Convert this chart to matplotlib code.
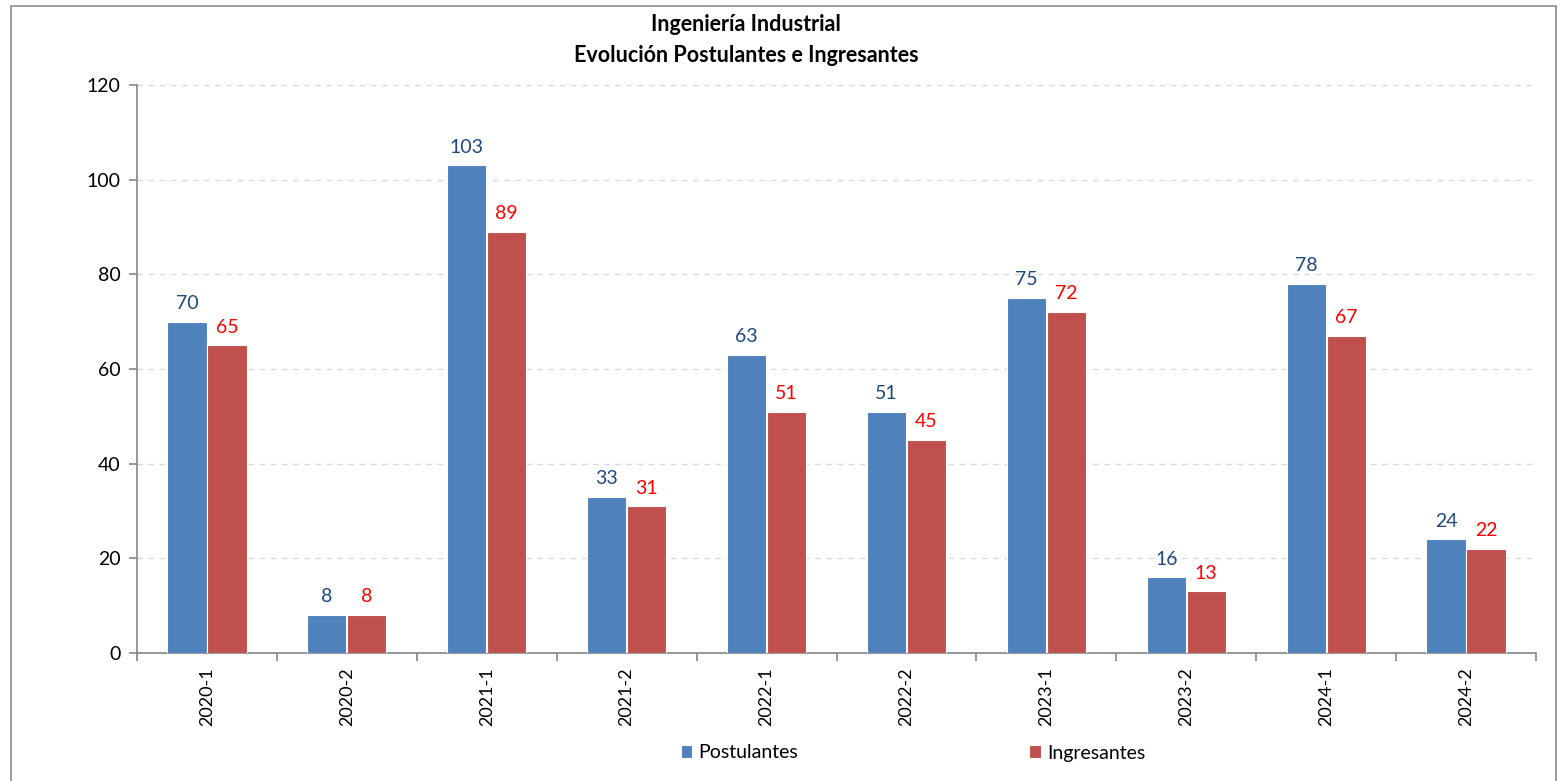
import numpy as np
import matplotlib
matplotlib.use("Agg")
from matplotlib import pyplot as plt
from matplotlib.patches import Rectangle

periodos = ["2020-1", "2020-2", "2021-1", "2021-2", "2022-1",
            "2022-2", "2023-1", "2023-2", "2024-1", "2024-2"]
postulantes = [70, 8, 103, 33, 63, 51, 75, 16, 78, 24]
ingresantes = [65, 8, 89, 31, 51, 45, 72, 13, 67, 22]

plt.rcParams['font.family'] = ['Lato', 'DejaVu Sans']

azul = "#4F81BD"
rojo = "#C0504D"

fig = plt.figure(figsize=(15.6, 7.81), dpi=100)
ax = fig.add_axes([137/1560, 1 - 653/781, (1536 - 137)/1560, (653 - 85)/781])

# marco del grafico
fig.patches.append(Rectangle((11/1560, -0.05), (1556 - 11)/1560, 1.05 - 6/781,
                             transform=fig.transFigure, fill=False,
                             edgecolor="#8C8C8C", linewidth=1.2))

x = np.arange(len(periodos))
w = 0.28
b1 = ax.bar(x - w/2 - 0.003, postulantes, w, color=azul, edgecolor="white",
            linewidth=0.8, label="Postulantes", zorder=3)
b2 = ax.bar(x + w/2 + 0.003, ingresantes, w, color=rojo, edgecolor="white",
            linewidth=0.8, label="Ingresantes", zorder=3)

for rect, v in zip(b1, postulantes):
    ax.annotate(str(v), (rect.get_x() + rect.get_width()/2, v),
                xytext=(0, 7), textcoords="offset points", ha="center",
                va="bottom", fontsize=14, color="#1F497D")
for rect, v in zip(b2, ingresantes):
    ax.annotate(str(v), (rect.get_x() + rect.get_width()/2, v),
                xytext=(0, 7), textcoords="offset points", ha="center",
                va="bottom", fontsize=14, color="#FF0000")

ax.set_xlim(-0.5, len(periodos) - 0.5)
ax.set_ylim(0, 120)
ax.set_yticks(range(0, 121, 20))
ax.yaxis.grid(True, linestyle=(0, (4, 4)), color="#D9D9D9", linewidth=1, zorder=0)
ax.set_axisbelow(True)

ax.set_xticks(np.arange(-0.5, len(periodos), 1))
ax.set_xticklabels([])
ax.set_xticks(x, minor=True)
ax.set_xticklabels(periodos, minor=True, rotation=90, fontsize=13)
ax.tick_params(axis="x", which="minor", length=0, pad=10)
ax.tick_params(axis="x", which="major", length=6, color="#868686", width=1.2)
ax.tick_params(axis="y", length=6, color="#868686", width=1.2, labelsize=14, pad=6)

for s in ["top", "right"]:
    ax.spines[s].set_visible(False)
for s in ["left", "bottom"]:
    ax.spines[s].set_color("#868686")
    ax.spines[s].set_linewidth(1.2)

fig.text(746/1560, 1 - 14/781, "Ingeniería Industrial\nEvolución Postulantes e Ingresantes",
         ha="center", va="top", fontsize=15.5, fontweight="bold", linespacing=1.6)

fig.legend(handles=[b1, b2], loc="center", bbox_to_anchor=(913/1560, 1 - 753/781),
           ncol=2, frameon=False, fontsize=14, handlelength=0.6, handleheight=0.6,
           handletextpad=0.3, columnspacing=11.9)

fig.savefig("out.png", dpi=100)
